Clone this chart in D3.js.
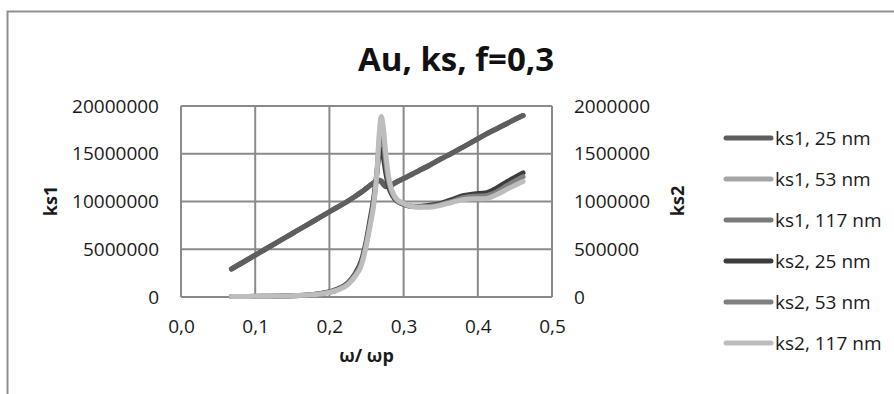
<!DOCTYPE html>
<html>
<head>
<meta charset="utf-8">
<script src="https://cdn.jsdelivr.net/npm/d3@7"></script>
<style>
  html, body { margin: 0; padding: 0; background: #fff; }
  svg { display: block; font-family: "Open Sans", "DejaVu Sans", sans-serif; }
</style>
</head>
<body>
<svg id="chart" width="894" height="394"></svg>
<script>
// Reduced frequency ω/ωp (shared by all series)
const omega = [0.068, 0.09, 0.11, 0.13, 0.15, 0.17, 0.19, 0.21, 0.225, 0.235, 0.243,
  0.25, 0.255, 0.26, 0.264, 0.267, 0.27, 0.273, 0.276, 0.28, 0.285, 0.29, 0.30, 0.31,
  0.32, 0.335, 0.35, 0.365, 0.38, 0.395, 0.41, 0.425, 0.44, 0.461];

// ks1 (left axis)
const ks1_25 = [2.93e6, 3.93e6, 4.84e6, 5.74e6, 6.65e6, 7.56e6, 8.46e6, 9.37e6, 10.05e6, 10.55e6, 10.98e6,
  11.38e6, 11.7e6, 11.98e6, 12.15e6, 12.2e6, 12.05e6, 11.75e6, 11.55e6, 11.55e6, 11.75e6, 12.0e6, 12.4e6, 12.8e6,
  13.2e6, 13.8e6, 14.45e6, 15.05e6, 15.7e6, 16.35e6, 17.0e6, 17.6e6, 18.2e6, 19.0e6];
const ks1_53 = [2.93e6, 3.93e6, 4.84e6, 5.74e6, 6.65e6, 7.56e6, 8.46e6, 9.37e6, 10.05e6, 10.55e6, 10.98e6,
  11.38e6, 11.7e6, 11.98e6, 12.15e6, 12.22e6, 12.1e6, 11.85e6, 11.65e6, 11.65e6, 11.8e6, 12.02e6, 12.4e6, 12.8e6,
  13.2e6, 13.8e6, 14.45e6, 15.05e6, 15.7e6, 16.35e6, 17.0e6, 17.6e6, 18.2e6, 19.0e6];
const ks1_117 = [2.93e6, 3.93e6, 4.84e6, 5.74e6, 6.65e6, 7.56e6, 8.46e6, 9.37e6, 10.05e6, 10.55e6, 10.98e6,
  11.38e6, 11.7e6, 11.98e6, 12.15e6, 12.25e6, 12.15e6, 11.95e6, 11.75e6, 11.75e6, 11.85e6, 12.05e6, 12.4e6, 12.8e6,
  13.2e6, 13.8e6, 14.45e6, 15.05e6, 15.7e6, 16.35e6, 17.0e6, 17.6e6, 18.2e6, 19.0e6];

// ks2 (right axis)
const ks2_25 = [4e3, 5e3, 7e3, 9e3, 12e3, 20e3, 40e3, 80e3, 150e3, 250e3, 380e3,
  600e3, 820e3, 1050e3, 1300e3, 1500e3, 1550e3, 1450e3, 1300e3, 1150e3, 1060e3, 1010e3, 970e3, 950e3,
  950e3, 960e3, 980e3, 1020e3, 1060e3, 1080e3, 1090e3, 1140e3, 1210e3, 1300e3];
const ks2_53 = [5e3, 6e3, 8e3, 10e3, 13e3, 20e3, 37e3, 75e3, 140e3, 235e3, 350e3,
  570e3, 780e3, 1010e3, 1300e3, 1620e3, 1720e3, 1620e3, 1400e3, 1200e3, 1080e3, 1020e3, 975e3, 950e3,
  945e3, 950e3, 970e3, 1000e3, 1040e3, 1055e3, 1060e3, 1100e3, 1170e3, 1260e3];
const ks2_117 = [5e3, 6e3, 8e3, 10e3, 13e3, 20e3, 35e3, 70e3, 130e3, 220e3, 330e3,
  550e3, 750e3, 980e3, 1300e3, 1700e3, 1890e3, 1750e3, 1500e3, 1250e3, 1100e3, 1030e3, 980e3, 950e3,
  940e3, 940e3, 960e3, 990e3, 1020e3, 1030e3, 1030e3, 1070e3, 1130e3, 1210e3];

const xTicks = [0, 0.1, 0.2, 0.3, 0.4, 0.5];
const yLeftTicks = [0, 5000000, 10000000, 15000000, 20000000];
const yRightTicks = [0, 500000, 1000000, 1500000, 2000000];

const seriesNames = ["ks1, 25 nm", "ks1, 53 nm", "ks1, 117 nm", "ks2, 25 nm", "ks2, 53 nm", "ks2, 117 nm"];
const seriesColors = ["#5e5e5e", "#a6a6a6", "#7a7a7a", "#3c3c3c", "#808080", "#bdbdbd"];

const svg = d3.select("#chart");
const W = 894, H = 394;
const plot = { left: 181, right: 552, top: 106, bottom: 297 };

// outer chart frame
svg.append("path")
  .attr("d", `M7.5,${H} V11.5 H${W}`)
  .attr("fill", "none").attr("stroke", "#8f8f8f").attr("stroke-width", 2);

const x = d3.scaleLinear().domain([0, 0.5]).range([plot.left, plot.right]);
const yL = d3.scaleLinear().domain([0, 20000000]).range([plot.bottom, plot.top]);
const yR = d3.scaleLinear().domain([0, 2000000]).range([plot.bottom, plot.top]);

// gridlines
const grid = svg.append("g").attr("stroke", "#8a8a8a").attr("stroke-width", 2);
grid.selectAll("line.h").data(yLeftTicks).join("line")
  .attr("x1", plot.left).attr("x2", plot.right)
  .attr("y1", d => yL(d)).attr("y2", d => yL(d));
grid.selectAll("line.v").data(xTicks).join("line")
  .attr("y1", plot.top).attr("y2", plot.bottom)
  .attr("x1", d => x(d)).attr("x2", d => x(d));

// axes (labels only, lines come from the grid)
const fmtComma = d => d3.format(".1f")(d).replace(".", ",");
const axX = svg.append("g").attr("transform", `translate(0,${plot.bottom + 22})`)
  .call(d3.axisBottom(x).tickValues(xTicks).tickFormat(fmtComma).tickSize(0).tickPadding(0));
const axL = svg.append("g").attr("transform", `translate(${plot.left - 22},0)`)
  .call(d3.axisLeft(yL).tickValues(yLeftTicks).tickFormat(d3.format("d")).tickSize(0).tickPadding(0));
const axR = svg.append("g").attr("transform", `translate(${plot.right + 22},0)`)
  .call(d3.axisRight(yR).tickValues(yRightTicks).tickFormat(d3.format("d")).tickSize(0).tickPadding(0));
[axX, axL, axR].forEach(a => {
  a.select(".domain").remove();
  a.selectAll("text").attr("font-family", "'Open Sans', sans-serif")
    .attr("font-size", 19).attr("fill", "#1a1a1a");
});

// series
const ks1Series = [ks1_25, ks1_53, ks1_117];
const ks2Series = [ks2_25, ks2_53, ks2_117];
const lineL = d3.line().x((d, i) => x(omega[i])).y(d => yL(d)).curve(d3.curveMonotoneX);
const lineR = d3.line().x((d, i) => x(omega[i])).y(d => yR(d)).curve(d3.curveMonotoneX);

const lines = svg.append("g").attr("fill", "none")
  .attr("stroke-width", 5).attr("stroke-linecap", "round").attr("stroke-linejoin", "round");
// ks1 drawn with the darkest on top
[1, 2, 0].forEach(k => {
  lines.append("path").attr("d", lineL(ks1Series[k])).attr("stroke", seriesColors[k]);
});
ks2Series.forEach((s, k) => {
  lines.append("path").attr("d", lineR(s)).attr("stroke", seriesColors[3 + k]);
});

// title
svg.append("text").attr("x", 456).attr("y", 71).attr("text-anchor", "middle")
  .attr("font-family", "'Open Sans', sans-serif").attr("font-weight", "bold")
  .attr("font-size", 33).attr("fill", "#111").text("Au, ks, f=0,3");

// axis titles
svg.append("text").attr("transform", "translate(57,201) rotate(-90)").attr("text-anchor", "middle")
  .attr("font-weight", "bold").attr("font-size", 18).attr("fill", "#1a1a1a").text("ks1");
svg.append("text").attr("transform", "translate(684,201) rotate(-90)").attr("text-anchor", "middle")
  .attr("font-weight", "bold").attr("font-size", 18).attr("fill", "#1a1a1a").text("ks2");
svg.append("text").attr("x", (plot.left + plot.right) / 2).attr("y", 362).attr("text-anchor", "middle")
  .attr("font-weight", "bold").attr("font-size", 18).attr("fill", "#1a1a1a").text("ω/ ωp");

// legend
const legend = svg.append("g");
const legendY = d3.scalePoint().domain(seriesNames).range([138, 343]);
seriesNames.forEach((name, i) => {
  const g = legend.append("g").attr("transform", `translate(0,${legendY(name)})`);
  g.append("line").attr("x1", 726).attr("x2", 771).attr("y1", 0).attr("y2", 0)
    .attr("stroke", seriesColors[i]).attr("stroke-width", 5).attr("stroke-linecap", "round");
  g.append("text").attr("x", 775).attr("y", 7).attr("font-size", 19).attr("fill", "#1a1a1a").text(name);
});
</script>
</body>
</html>
